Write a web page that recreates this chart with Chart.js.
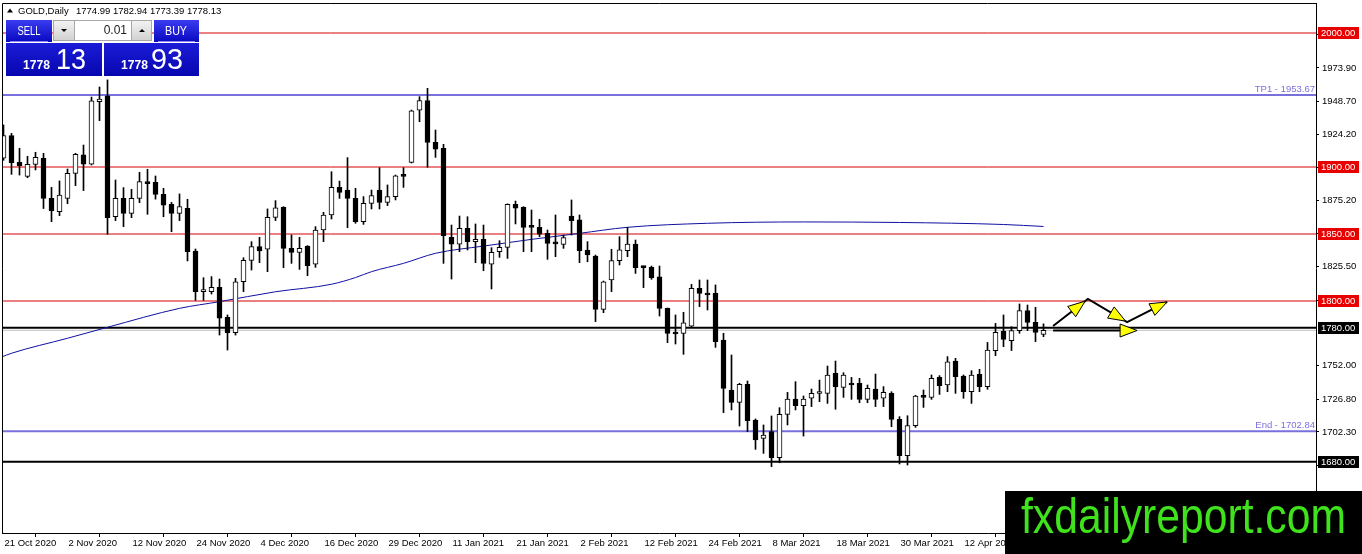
<!DOCTYPE html>
<html><head><meta charset="utf-8">
<script src="https://cdn.jsdelivr.net/npm/chart.js@4"></script>
<style>html,body{margin:0;padding:0;background:#fff;overflow:hidden}#wrap{width:1362px;height:554px;position:relative}canvas{display:block}</style>
</head><body><div id="wrap"><canvas id="c" width="1362" height="554"></canvas></div>
<script>
const symbolTitle = 'GOLD,Daily';
const headerValues = ['1774.99', '1782.94', '1773.39', '1778.13'];
const sellPrice = ['1778', '13'];
const buyPrice = ['1778', '93'];
const lotSize = '0.01';
const watermark = 'fxdailyreport.com';

const dateLabels = ['21 Oct 2020','2 Nov 2020','12 Nov 2020','24 Nov 2020','4 Dec 2020','16 Dec 2020','29 Dec 2020','11 Jan 2021','21 Jan 2021','2 Feb 2021','12 Feb 2021','24 Feb 2021','8 Mar 2021','18 Mar 2021','30 Mar 2021','12 Apr 2021'];
const dateLabelStep = 8;

const opens = [1906.5,1923.4,1903.5,1893,1902,1906.5,1876.6,1866.7,1876.6,1895.3,
1909,1902.2,1948.7,1953.2,1863,1876.6,1865.4,1876.6,1888.6,1888.6,
1879.6,1872.1,1865.4,1869.2,1837.3,1807,1807,1810.2,1787.8,1776.4,
1814.4,1830.3,1840.6,1838.6,1862.4,1869.9,1839.3,1836.3,1841,1827.4,
1853,1864.2,1884.8,1882.8,1876.6,1859.2,1872.9,1882.8,1873.6,1877.9,
1893.5,1903.5,1942.5,1949.5,1918.4,1913.9,1847.5,1842.5,1854.2,1844.3,
1846,1827.4,1836.8,1840,1872.1,1869.9,1855.2,1855,1850.5,1843,
1842.3,1863.4,1860.5,1838,1833.6,1793.8,1815.7,1830.1,1837.6,1842.5,
1825.2,1825.1,1818.1,1794.5,1775.6,1775.9,1781.3,1809.5,1805.2,1805.7,
1770.9,1733.6,1724.4,1737.8,1711.2,1697.5,1702.5,1683.1,1715.4,1726.9,
1721.9,1727.4,1731,1731.1,1746,1735.6,1738.6,1738.6,1726.6,1734.3,
1727.4,1731.1,1711.7,1684.6,1707,1728.5,1728.1,1743,1737.3,1755.2,
1744,1732.3,1745.3,1736.1,1763,1777.6,1770.4,1777.9,1792.8,1784.1,
1774.99];
const highs = [1931.4,1925.1,1914,1908,1911,1910.2,1884.8,1889.6,1898.5,1910.2,
1916.4,1952.2,1959.7,1965,1890.3,1884.6,1883.3,1896,1898.3,1893.3,
1884.1,1873.6,1879.9,1875.9,1838.8,1817.4,1818.2,1816.4,1789.6,1816.9,
1832.3,1844.3,1847.5,1868.7,1874.9,1870.4,1849.3,1847.5,1841.3,1855.5,
1866.2,1896.5,1889.5,1907,1884.1,1877.9,1882.8,1899.5,1886.6,1894,
1899.5,1942.5,1952.5,1958.7,1927.6,1916.9,1856.7,1863.4,1862.9,1857.5,
1856.7,1839.8,1845,1872.5,1874.6,1870.4,1867.9,1861,1853,1864.2,
1849.2,1875.4,1864.2,1844.3,1834.3,1814.9,1838.6,1848,1855,1845.5,
1826,1826.1,1826.1,1794.8,1789.6,1791.6,1812.4,1815.7,1815.7,1812,
1775.9,1759.7,1738.6,1740.3,1712,1707.5,1714.2,1720.4,1731.8,1739.8,
1729.1,1734.3,1741,1751.5,1755.2,1746.5,1743,1742.3,1737.3,1745.5,
1736.1,1732.3,1713.7,1714.4,1729.6,1733.6,1744.8,1744.3,1758.5,1757.2,
1744.8,1748,1749,1769.1,1783.3,1789.6,1780.8,1797.8,1797,1795.3,
1782.94];
const lows = [1905,1894.5,1894,1892,1897.8,1869,1859.2,1863.7,1872.6,1886.1,
1882.4,1901.5,1934.6,1849.8,1860,1855.5,1862.2,1873.4,1864.7,1876,
1862.9,1851.7,1860,1829.9,1800.5,1800.5,1805.2,1774.6,1763.4,1774.6,
1807,1823.1,1828.6,1821.9,1860,1824.9,1828.1,1823.6,1818.9,1825.1,
1844.3,1861.2,1876.6,1854.7,1858,1857.2,1868.7,1868.7,1871.2,1875.4,
1884.8,1903,1933.8,1899.8,1907.2,1828.1,1816.4,1836.8,1838.1,1828.6,
1822.6,1809,1832.6,1831.8,1857.5,1836.8,1836.8,1848,1831.1,1833.1,
1839.3,1849.2,1828.6,1829.3,1784.6,1791.3,1807,1826.9,1833.1,1820.6,
1810,1816.2,1788.8,1768.9,1767.9,1760.2,1780.8,1795.8,1793.3,1765.4,
1716.7,1718.7,1706.7,1702.5,1689.3,1686.3,1676.4,1679.3,1707.5,1718.7,
1699.2,1721.2,1724.9,1723.6,1719.2,1728.1,1726.6,1724.1,1724.1,1721.2,
1721.2,1706.2,1678.4,1677.6,1705.7,1720.6,1726.6,1730.3,1732.3,1731.1,
1727.4,1723.6,1732.3,1734.1,1759.2,1765.9,1763,1775.9,1777.9,1769.7,
1773.39];
const closes = [1923.4,1903.2,1901,1902,1907.2,1876.6,1867.4,1879,1895.3,1909.5,
1902.2,1949.3,1950.7,1862.2,1876.6,1865.4,1876.6,1889.1,1887.6,1879.6,
1871.6,1865.4,1870.4,1836.8,1807,1807.5,1810.2,1787.1,1776.4,1814.4,
1830.3,1840.6,1837.3,1862.4,1869.6,1839.3,1836.3,1839.3,1826.4,1853,
1864.2,1884.8,1881.1,1876.6,1859.2,1872.9,1878.6,1873.6,1877.9,1893.5,
1893,1942,1949.5,1918.4,1913.4,1848.8,1842.5,1854.2,1844.3,1846,
1828.1,1836.3,1840,1872.1,1869.2,1855,1855,1849.8,1843,1842.6,
1847.3,1860,1837.6,1834.3,1793.8,1814.4,1830.1,1838.1,1842.5,1824.9,
1824.9,1817.4,1794.5,1775.9,1775.4,1783.8,1809.5,1805.7,1804.5,1769.7,
1734.8,1724.4,1737.8,1710.7,1696.3,1700,1683.1,1715.4,1726.9,1721.9,
1726.9,1731.1,1731.3,1744.8,1736.1,1744.8,1737.3,1726.6,1734.8,1726.6,
1731.8,1711.7,1684.6,1707,1729.1,1728.1,1742.3,1736.8,1754.7,1743.5,
1732.3,1744.8,1736.1,1763.4,1776.6,1771.4,1777.9,1792.8,1784.1,1776.6,
1778.13];

const maIdx = [-0.2, 1, 8, 13, 22, 27, 34, 41, 44, 46, 50, 54, 60, 66, 72, 78, 88, 100, 112, 125, 130];
const maVal = [1758.3, 1761.0, 1772.2, 1780.4, 1794.5, 1799.5, 1806.9, 1812.5, 1817.5, 1821.9, 1828.1, 1835.6, 1841.0, 1846.0, 1850.5, 1855.0, 1858.0, 1859.0, 1858.6, 1857.1, 1855.6];

const yTicks = [1999.00, 1973.90, 1948.70, 1924.20, 1899.60, 1875.20, 1850.30, 1825.50, 1800.70, 1752.00, 1726.80, 1702.30, 1677.40];
const redLevels = [2000, 1900, 1850, 1800];
const blackLevels = [1780, 1680];
const purpleLevels = [1953.67, 1702.84];
const purpleNames = ['TP1', 'End'];
const bidPrice = 1778.13;

const arrowPathIdx = [131.2, 135.55, 140.45, 145.45];
const arrowPathPrice = [1781.3, 1801.5, 1784.3, 1799.3];
const arrowHeadAt = [0.92, 0.96, 1.0];
const flatArrowIdx = [131.2, 141.7];
const flatArrowPrice = 1778.0;

const X_MIN = -0.1875, X_MAX = 164.0625;
const Y_MIN = 1626.87, Y_MAX = 2022.39;
const FONT = "'Liberation Sans', Arial, sans-serif";
const RED = '#d80000', PURPLE = '#7a70dc';

const bodyData = opens.map((o, i) => ({x: i, y: [o, closes[i]]}));
const wickData = lows.map((l, i) => ({x: i, y: [l, highs[i]]}));
const bodyColors = opens.map((o, i) => closes[i] >= o ? '#ffffff' : '#000000');

function hLine(v, color, width, order) {
  return {type: 'line', data: [{x: X_MIN, y: v}, {x: X_MAX, y: v}], borderColor: color, borderWidth: width,
    pointRadius: 0, order: order, parsing: false};
}
const datasets = [
  {type: 'bar', data: bodyData, backgroundColor: bodyColors, borderColor: '#000', borderWidth: 1, borderSkipped: false,
   barThickness: 5, minBarLength: 2, grouped: false, order: 0},
  {type: 'bar', data: wickData, backgroundColor: '#000', borderWidth: 0, barThickness: 1, grouped: false, order: 1},
  {type: 'line', data: maIdx.map((x, k) => ({x: x, y: maVal[k]})), borderColor: '#1010a0', borderWidth: 1,
   pointRadius: 0, cubicInterpolationMode: 'monotone', order: 2},
  hLine(bidPrice, '#c0c0c0', 1, 6)
];
redLevels.forEach(v => datasets.push(hLine(v, RED, 1, 5)));
purpleLevels.forEach(v => datasets.push(hLine(v, PURPLE, 2, 5)));
blackLevels.forEach(v => datasets.push(hLine(v, '#000', 2, 4)));

function arrowHead(ctx, x0, y0, x1, y1, t) {
  const dx = x1 - x0, dy = y1 - y0, len = Math.hypot(dx, dy);
  const ux = dx / len, uy = dy / len;
  const tx = x0 + dx * t, ty = y0 + dy * t;
  const bx = tx - ux * 17, by = ty - uy * 17;
  ctx.beginPath();
  ctx.moveTo(tx, ty);
  ctx.lineTo(bx - uy * 6.5, by + ux * 6.5);
  ctx.lineTo(bx + uy * 6.5, by - ux * 6.5);
  ctx.closePath();
  ctx.fillStyle = '#ffff00'; ctx.fill();
  ctx.strokeStyle = '#000'; ctx.lineWidth = 1; ctx.stroke();
}

const overlay = {
  id: 'overlay',
  afterDatasetsDraw(chart) {
    const ctx = chart.ctx, xs = chart.scales.x, ys = chart.scales.y, ca = chart.chartArea;
    ctx.save();
    // level names
    ctx.font = '9.5px ' + FONT; ctx.fillStyle = PURPLE; ctx.textAlign = 'right'; ctx.textBaseline = 'alphabetic';
    purpleLevels.forEach((v, k) => ctx.fillText(purpleNames[k] + ' - ' + v.toFixed(2), ca.right - 1, ys.getPixelForValue(v) - 3));
    // arrows
    const px = arrowPathIdx.map(v => xs.getPixelForValue(v));
    const py = arrowPathPrice.map(v => ys.getPixelForValue(v));
    ctx.strokeStyle = '#000'; ctx.lineWidth = 2;
    ctx.beginPath(); ctx.moveTo(px[0], py[0]);
    for (let k = 1; k < px.length; k++) ctx.lineTo(px[k], py[k]);
    ctx.stroke();
    const fx0 = xs.getPixelForValue(flatArrowIdx[0]), fx1 = xs.getPixelForValue(flatArrowIdx[1]);
    const fy = ys.getPixelForValue(flatArrowPrice);
    ctx.beginPath(); ctx.moveTo(fx0, fy); ctx.lineTo(fx1 - 4, fy); ctx.stroke();
    for (let k = 0; k < px.length - 1; k++) arrowHead(ctx, px[k], py[k], px[k + 1], py[k + 1], arrowHeadAt[k]);
    arrowHead(ctx, fx0, fy, fx1, fy, 1.0);
    ctx.restore();
  },
  afterDraw(chart) {
    const ctx = chart.ctx, ys = chart.scales.y, ca = chart.chartArea;
    ctx.save();
    // frame
    ctx.strokeStyle = '#000'; ctx.lineWidth = 1;
    ctx.beginPath(); ctx.moveTo(ca.left + 0.5, ca.bottom); ctx.lineTo(ca.left + 0.5, ca.top + 0.5); ctx.lineTo(ca.right, ca.top + 0.5); ctx.stroke();
    // bid label under boxes
    ctx.font = '9.5px ' + FONT; ctx.textBaseline = 'middle'; ctx.textAlign = 'left';
    ctx.fillStyle = '#000';
    ctx.fillText(bidPrice.toFixed(2), ca.right + 6, ys.getPixelForValue(bidPrice) + 1);
    // level boxes
    function box(v, bg) {
      const y = Math.round(ys.getPixelForValue(v));
      ctx.fillStyle = bg; ctx.fillRect(ca.right + 2, y - 6, 41, 12);
      ctx.fillStyle = '#fff'; ctx.fillText(v.toFixed(2), ca.right + 5, y + 0.5);
    }
    redLevels.forEach(v => box(v, '#e80000'));
    blackLevels.forEach(v => box(v, '#000'));
    // header
    ctx.fillStyle = '#000';
    ctx.beginPath(); ctx.moveTo(7, 12.5); ctx.lineTo(13, 12.5); ctx.lineTo(10, 8.5); ctx.closePath(); ctx.fill();
    ctx.font = '9.5px ' + FONT; ctx.textBaseline = 'middle';
    ctx.fillText(symbolTitle, 18, 11);
    ctx.fillText(headerValues.join(' '), 76, 11);
    // trade panel
    const grad = (y0, y1, c0, c1) => { const g = ctx.createLinearGradient(0, y0, 0, y1); g.addColorStop(0, c0); g.addColorStop(1, c1); return g; };
    ctx.fillStyle = grad(20, 42, '#3b3bf0', '#0808c0');
    ctx.fillRect(6, 20, 46, 22); ctx.fillRect(154, 20, 45, 22);
    ctx.fillStyle = grad(43, 76, '#1c1cd8', '#0606b0');
    ctx.fillRect(6, 43, 96, 33); ctx.fillRect(104, 43, 95, 33);
    ctx.strokeStyle = '#8a8af0'; ctx.lineWidth = 1;
    ctx.beginPath(); ctx.moveTo(10, 41.5); ctx.lineTo(48, 41.5); ctx.moveTo(158, 41.5); ctx.lineTo(195, 41.5); ctx.stroke();
    ctx.fillStyle = grad(20, 41, '#f4f4f4', '#d0d0d0');
    ctx.fillRect(53, 20, 21, 21); ctx.fillRect(132, 20, 20, 21);
    ctx.fillStyle = '#fff'; ctx.fillRect(74, 20, 58, 21);
    ctx.strokeStyle = '#a8a8a8';
    ctx.strokeRect(53.5, 20.5, 98, 20);
    ctx.beginPath(); ctx.moveTo(74.5, 20.5); ctx.lineTo(74.5, 40.5); ctx.moveTo(131.5, 20.5); ctx.lineTo(131.5, 40.5); ctx.stroke();
    ctx.fillStyle = '#000';
    ctx.beginPath(); ctx.moveTo(61, 29); ctx.lineTo(67, 29); ctx.lineTo(64, 32); ctx.closePath(); ctx.fill();
    ctx.beginPath(); ctx.moveTo(139, 32); ctx.lineTo(145, 32); ctx.lineTo(142, 29); ctx.closePath(); ctx.fill();
    ctx.font = '12px ' + FONT; ctx.textAlign = 'right'; ctx.fillStyle = '#222';
    ctx.fillText(lotSize, 127, 31);
    ctx.fillStyle = '#fff'; ctx.textAlign = 'center';
    ctx.font = '13px ' + FONT;
    ctx.fillText('SELL', 29, 31, 23);
    ctx.fillText('BUY', 176, 31, 22);
    ctx.textAlign = 'left'; ctx.textBaseline = 'alphabetic';
    ctx.font = 'bold 13px ' + FONT;
    ctx.fillText(sellPrice[0], 23, 69, 27);
    ctx.fillText(buyPrice[0], 121, 69, 27);
    ctx.font = '30px ' + FONT;
    ctx.fillText(sellPrice[1], 56, 68.5, 30);
    ctx.fillText(buyPrice[1], 151, 68.5, 32);
    // watermark
    ctx.fillStyle = '#000'; ctx.fillRect(1005, 491, 357, 63);
    ctx.fillStyle = '#3fe21c'; ctx.font = "50px 'Liberation Sans Narrow', 'Liberation Sans', sans-serif";
    ctx.fillText(watermark, 1021, 533, 325);
    ctx.restore();
  }
};

new Chart(document.getElementById('c'), {
  type: 'bar',
  data: {datasets: datasets},
  options: {
    responsive: false, animation: false, events: [],
    layout: {padding: {left: 2, top: 3, right: 0, bottom: 0}},
    plugins: {legend: {display: false}, tooltip: {enabled: false}},
    scales: {
      x: {type: 'linear', position: 'bottom', min: X_MIN, max: X_MAX, offset: false,
        grid: {drawOnChartArea: false, drawTicks: true, tickLength: 4, color: '#000'},
        border: {display: true, color: '#000', width: 1},
        afterBuildTicks: s => { s.ticks = dateLabels.map((_, k) => ({value: k * dateLabelStep})); },
        ticks: {autoSkip: false, maxRotation: 0, minRotation: 0, align: 'start', labelOffset: 1, padding: 1, color: '#000',
          font: {family: FONT, size: 9.5}, callback: (v, i) => dateLabels[i]},
        afterFit: s => { s.height = 21; s.paddingLeft = 0; s.paddingRight = 0; s.paddingTop = 0; s.paddingBottom = 0; }
      },
      y: {type: 'linear', position: 'right', min: Y_MIN, max: Y_MAX,
        grid: {drawOnChartArea: false, drawTicks: true, tickLength: 3, color: '#000'},
        border: {display: true, color: '#000', width: 1},
        afterBuildTicks: s => { s.ticks = yTicks.map(v => ({value: v})); },
        ticks: {autoSkip: false, padding: 3, color: '#000', font: {family: FONT, size: 9.5}, callback: v => Number(v).toFixed(2)},
        afterFit: s => { s.width = 46; s.paddingLeft = 0; s.paddingRight = 0; s.paddingTop = 0; s.paddingBottom = 0; }
      }
    }
  },
  plugins: [overlay]
});
</script>
</body></html>
